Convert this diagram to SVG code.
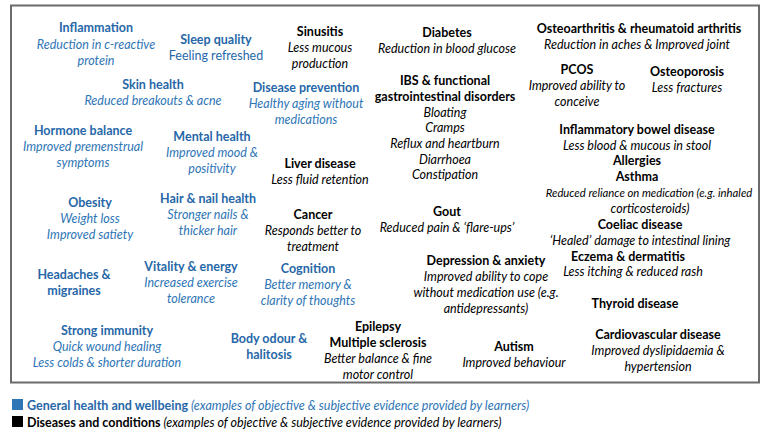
<svg xmlns="http://www.w3.org/2000/svg" width="770" height="436" viewBox="0 0 770 436">
<style>
text{font-family:Lato,"Liberation Sans",sans-serif;font-size:12.5px;text-anchor:middle}
.h{font-weight:bold}
.i{font-style:italic}
.b{fill:#2767a8}
.bi{fill:#2e75b6;font-style:italic}
.k{fill:#000}
.l{text-anchor:start}
</style>
<rect x="11" y="5.5" width="748" height="377" fill="#fff" stroke="#6b6b6b" stroke-width="2"/>
<g id="inflammation"><text class="h b" x="96" y="32">Inflammation</text><text class="bi" x="96" y="48.5">Reduction in c-reactive</text><text class="bi" x="96" y="64.5">protein</text></g>
<g id="sleep"><text class="h b" x="216" y="44">Sleep quality</text><text class="b" x="216" y="60">Feeling refreshed</text></g>
<g id="skin"><text class="h b" x="153" y="89">Skin health</text><text class="bi" x="153" y="105">Reduced breakouts &amp; acne</text></g>
<g id="hormone"><text class="h b" x="83" y="135">Hormone balance</text><text class="bi" x="83" y="151">Improved premenstrual</text><text class="bi" x="83" y="167">symptoms</text></g>
<g id="mental"><text class="h b" x="212" y="141">Mental health</text><text class="bi" x="212" y="157">Improved mood &amp;</text><text class="bi" x="212" y="173">positivity</text></g>
<g id="obesity"><text class="h b" x="90" y="207">Obesity</text><text class="bi" x="90" y="223">Weight loss</text><text class="bi" x="90" y="239">Improved satiety</text></g>
<g id="hair"><text class="h b" x="208" y="203">Hair &amp; nail health</text><text class="bi" x="208" y="219">Stronger nails &amp;</text><text class="bi" x="208" y="235">thicker hair</text></g>
<g id="headaches"><text class="h b" x="74" y="279">Headaches &amp;</text><text class="h b" x="74" y="295">migraines</text></g>
<g id="vitality"><text class="h b" x="191" y="271">Vitality &amp; energy</text><text class="bi" x="191" y="287">Increased exercise</text><text class="bi" x="191" y="303">tolerance</text></g>
<g id="immunity"><text class="h b" x="107" y="335">Strong immunity</text><text class="bi" x="107" y="351">Quick wound healing</text><text class="bi" x="107" y="367">Less colds &amp; shorter duration</text></g>
<g id="bodyodour"><text class="h b" x="269" y="343">Body odour &amp;</text><text class="h b" x="269" y="359">halitosis</text></g>
<g id="prevention"><text class="h b" x="306" y="92">Disease prevention</text><text class="bi" x="306" y="108">Healthy aging without</text><text class="bi" x="306" y="124">medications</text></g>
<g id="cognition"><text class="h b" x="308" y="273">Cognition</text><text class="bi" x="308" y="289">Better memory &amp;</text><text class="bi" x="308" y="305">clarity of thoughts</text></g>
<g id="sinusitis"><text class="h k" x="320" y="36">Sinusitis</text><text class="i k" x="320" y="52">Less mucous</text><text class="i k" x="320" y="68">production</text></g>
<g id="diabetes"><text class="h k" x="447" y="37">Diabetes</text><text class="i k" x="447" y="53">Reduction in blood glucose</text></g>
<g id="ibs"><text class="h k" x="445" y="85">IBS &amp; functional</text><text class="h k" x="445" y="101">gastrointestinal disorders</text><text class="i k" x="445" y="117">Bloating</text><text class="i k" x="445" y="132">Cramps</text><text class="i k" x="445" y="148">Reflux and heartburn</text><text class="i k" x="445" y="164">Diarrhoea</text><text class="i k" x="445" y="179">Constipation</text></g>
<g id="liver"><text class="h k" x="320" y="168">Liver disease</text><text class="i k" x="320" y="184">Less fluid retention</text></g>
<g id="cancer"><text class="h k" x="313" y="219">Cancer</text><text class="i k" x="313" y="235">Responds better to</text><text class="i k" x="313" y="251">treatment</text></g>
<g id="gout"><text class="h k" x="447" y="216">Gout</text><text class="i k" x="447" y="232">Reduced pain &amp; ‘flare-ups’</text></g>
<g id="depression"><text class="h k" x="486" y="265">Depression &amp; anxiety</text><text class="i k" x="486" y="281">Improved ability to cope</text><text class="i k" x="486" y="297">without medication use (e.g.</text><text class="i k" x="486" y="313">antidepressants)</text></g>
<g id="epilepsy"><text class="h k" x="378" y="331">Epilepsy</text><text class="h k" x="378" y="347">Multiple sclerosis</text><text class="i k" x="378" y="363">Better balance &amp; fine</text><text class="i k" x="378" y="379">motor control</text></g>
<g id="autism"><text class="h k" x="514" y="351">Autism</text><text class="i k" x="514" y="367">Improved behaviour</text></g>
<g id="osteoarthritis"><text class="h k" x="639" y="33">Osteoarthritis &amp; rheumatoid arthritis</text><text class="i k" x="637" y="49">Reduction in aches &amp; Improved joint</text></g>
<g id="pcos"><text class="h k" x="577" y="74">PCOS</text><text class="i k" x="577" y="90">Improved ability to</text><text class="i k" x="577" y="106">conceive</text></g>
<g id="osteoporosis"><text class="h k" x="687" y="76">Osteoporosis</text><text class="i k" x="687" y="92">Less fractures</text></g>
<g id="ibd"><text class="h k" x="637" y="134">Inflammatory bowel disease</text><text class="i k" x="637" y="150">Less blood &amp; mucous in stool</text></g>
<g id="allergies"><text class="h k" x="637" y="165">Allergies</text></g>
<g id="asthma"><text class="h k" x="637" y="181">Asthma</text><text class="i k" x="649" y="197" style="font-size:11.3px">Reduced reliance on medication (e.g. inhaled</text><text class="i k" x="650" y="213">corticosteroids)</text></g>
<g id="coeliac"><text class="h k" x="640" y="229">Coeliac disease</text><text class="i k" x="640" y="245">‘Healed’ damage to intestinal lining</text></g>
<g id="eczema"><text class="h k" x="628" y="261">Eczema &amp; dermatitis</text><text class="i k" x="633" y="276">Less itching &amp; reduced rash</text></g>
<g id="thyroid"><text class="h k" x="635" y="308">Thyroid disease</text></g>
<g id="cardio"><text class="h k" x="658" y="339">Cardiovascular disease</text><text class="i k" x="658" y="355">Improved dyslipidaemia &amp;</text><text class="i k" x="658" y="371">hypertension</text></g>
<g id="connectors"></g>
<g id="legend">
<rect x="12" y="399" width="11" height="11" fill="#2e75b6"/>
<text class="l" x="27" y="410"><tspan class="h b">General health and wellbeing</tspan><tspan class="bi"> (examples of objective &amp; subjective evidence provided by learners)</tspan></text>
<rect x="12" y="416" width="11" height="11" fill="#000"/>
<text class="l" x="27" y="427"><tspan class="h k">Diseases and conditions</tspan><tspan class="i k"> (examples of objective &amp; subjective evidence provided by learners)</tspan></text>
</g>
</svg>
